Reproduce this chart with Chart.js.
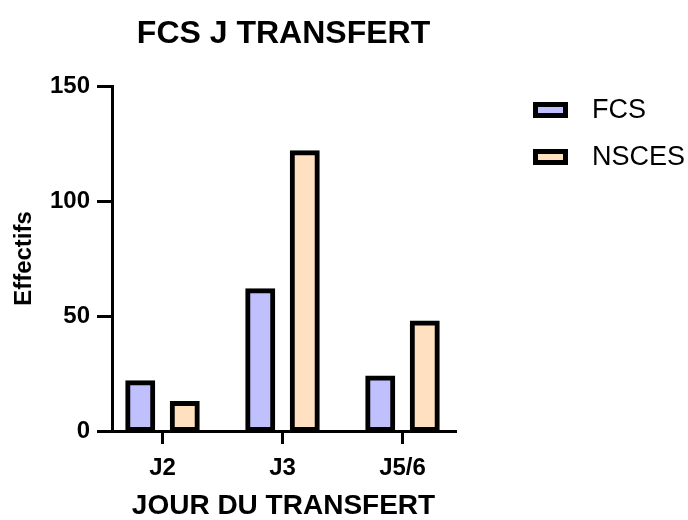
<!DOCTYPE html>
<html><head><meta charset="utf-8">
<script src="https://cdn.jsdelivr.net/npm/chart.js@4"></script>
<style>html,body{margin:0;padding:0;background:#fff}#wrap{width:688px;height:520px}</style>
</head><body><div id="wrap"><canvas id="c" width="688" height="520"></canvas></div>
<script>
const categories = ['J2', 'J3', 'J5/6'];
const fcsValues = [21, 61, 23];
const nscesValues = [12, 121, 47];
const yTickValues = [0, 50, 100, 150];
const seriesNames = ['FCS', 'NSCES'];
const seriesColors = ['#C0C0FF', '#FFE0C0'];

const FAMILY = "'Liberation Sans', Arial, Helvetica, sans-serif";

const toPoints = vals => categories.map((c, i) => ({ x: i, y: vals[i] }));

const legendPlugin = {
  id: 'prismLegend',
  afterDraw(chart) {
    const ctx = chart.ctx;
    ctx.save();
    chart.data.datasets.forEach((ds, i) => {
      const cy = 110 + i * 47;
      const x = 535.5, w = 30, h = 11;
      ctx.fillStyle = ds.backgroundColor;
      ctx.fillRect(x, cy - h / 2, w, h);
      ctx.lineWidth = 5;
      ctx.strokeStyle = '#000';
      ctx.strokeRect(x, cy - h / 2, w, h);
      ctx.fillStyle = '#000';
      ctx.font = "27px " + FAMILY;
      ctx.textAlign = 'left';
      ctx.textBaseline = 'middle';
      ctx.fillText(ds.label, 592, cy + 1);
    });
    ctx.restore();
  }
};

new Chart(document.getElementById('c'), {
  type: 'bar',
  data: {
    datasets: [
      { label: seriesNames[0], data: toPoints(fcsValues), backgroundColor: seriesColors[0] },
      { label: seriesNames[1], data: toPoints(nscesValues), backgroundColor: seriesColors[1] }
    ]
  },
  options: {
    responsive: false,
    animation: false,
    devicePixelRatio: 1,
    layout: { padding: { left: 0, top: 0, right: 233, bottom: 0 } },
    datasets: {
      bar: {
        borderColor: '#000',
        borderWidth: 5,
        borderSkipped: false,
        inflateAmount: 2.5,
        categoryPercentage: 0.7417,
        barPercentage: 0.5618
      }
    },
    plugins: {
      legend: { display: false },
      tooltip: { enabled: false },
      title: {
        display: true,
        text: 'FCS J TRANSFERT',
        fullSize: false,
        color: '#000',
        font: { family: FAMILY, size: 32, weight: 'bold', lineHeight: 1 },
        padding: { top: 18, bottom: 36 }
      }
    },
    scales: {
      x: {
        type: 'linear',
        bounds: 'data',
        offset: false,
        min: -0.4208,
        max: 2.4375,
        z: 1,
        afterBuildTicks: s => { s.ticks = categories.map((c, i) => ({ value: i })); },
        afterFit: s => { s.height = 89; },
        grid: { display: true, offset: false, drawOnChartArea: false, drawTicks: true, tickLength: 13, lineWidth: 3, color: '#000' },
        border: { display: true, width: 3, color: '#000' },
        ticks: {
          padding: 10, color: '#000', maxRotation: 0, autoSkip: false,
          font: { family: FAMILY, size: 24, weight: 'bold' },
          callback: v => categories[v]
        },
        title: {
          display: true, text: 'JOUR DU TRANSFERT', color: '#000',
          font: { family: FAMILY, size: 28, weight: 'bold', lineHeight: 1 },
          padding: { top: 0, bottom: 0 }
        }
      },
      y: {
        min: 0,
        max: 150,
        bounds: 'data',
        z: 1,
        afterBuildTicks: s => { s.ticks = yTickValues.map(v => ({ value: v })); },
        afterFit: s => { s.width = 112; },
        grid: { display: true, drawOnChartArea: false, drawTicks: true, tickLength: 15, lineWidth: 3, color: '#000' },
        border: { display: true, width: 3, color: '#000' },
        ticks: {
          padding: 7, color: '#000',
          font: { family: FAMILY, size: 24, weight: 'bold' }
        },
        title: {
          display: true, text: 'Effectifs', color: '#000',
          font: { family: FAMILY, size: 24, weight: 'bold', lineHeight: 1 },
          padding: { top: 12, bottom: 0 }
        }
      }
    }
  },
  plugins: [legendPlugin]
});
</script>
</body></html>
